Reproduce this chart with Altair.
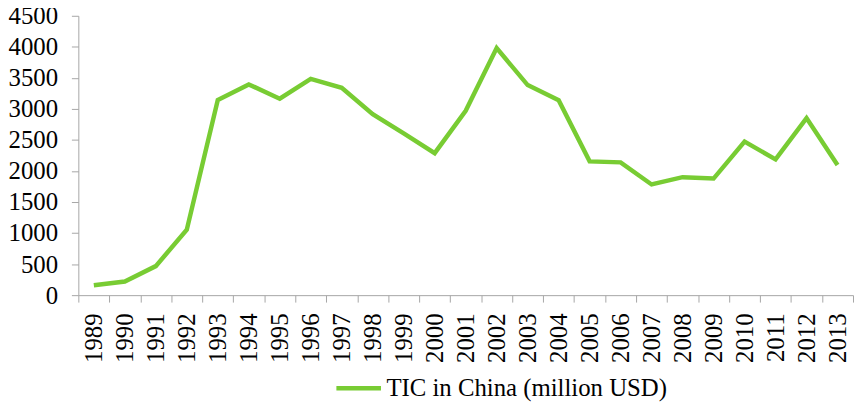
import altair as alt
import pandas as pd

years = [str(y) for y in range(1989, 2014)]
values = [160, 220, 468, 1053, 3144, 3395, 3165, 3484, 3340, 2916, 2607, 2287,
          2969, 3979, 3384, 3139, 2155, 2139, 1783, 1900, 1878, 2474, 2187, 2852, 2096]
series_name = "TIC in China (million USD)"

df = pd.DataFrame({"Year": years, "Value": values, "Series": [series_name] * len(years)})

FONT = "Times New Roman, Liberation Serif, serif"

chart = alt.Chart(df).mark_line(strokeWidth=4.5).encode(
    x=alt.X("Year:O", sort=years, title=None,
            scale=alt.Scale(paddingInner=0, paddingOuter=0),
            axis=alt.Axis(labelAngle=270, tickBand="extent", labelFontSize=25,
                          labelFont=FONT, labelColor="black", labelPadding=11,
                          domainColor="#A6A6A6", tickColor="#A6A6A6", tickSize=7,
                          grid=False)),
    y=alt.Y("Value:Q", title=None,
            scale=alt.Scale(domain=[0, 4500], nice=False),
            axis=alt.Axis(values=list(range(0, 4501, 500)), format="d", labelFontSize=25,
                          labelFont=FONT, labelColor="black", labelPadding=14,
                          domainColor="#A6A6A6", tickColor="#A6A6A6", tickSize=7,
                          grid=False)),
    color=alt.Color("Series:N", scale=alt.Scale(range=["#78CC33"]),
                    legend=alt.Legend(title=None, orient="none", legendX=258, legendY=351,
                                      symbolType="stroke", symbolSize=2025,
                                      symbolStrokeColor="#78CC33",
                                      symbolStrokeWidth=4.5, labelFont=FONT,
                                      labelFontSize=25, labelColor="black",
                                      labelLimit=500, labelOffset=3, padding=0)),
).properties(
    width=782, height=282,
    padding={"left": 71, "top": 6, "right": 2, "bottom": 107},
    autosize=alt.AutoSizeParams(type="none"),
).configure_view(stroke=None)

chart.save("out.html", embed_options={"renderer": "svg", "actions": False})
